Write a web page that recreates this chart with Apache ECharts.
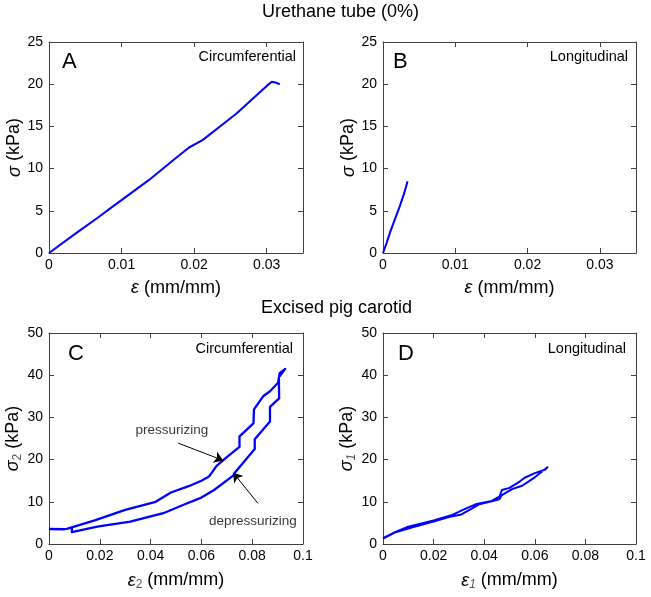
<!DOCTYPE html>
<html>
<head>
<meta charset="utf-8">
<script src="https://cdn.jsdelivr.net/npm/echarts@6/dist/echarts.min.js"></script>
<style>html,body{margin:0;padding:0;background:#fff}#c{width:651px;height:597px}</style>
</head>
<body>
<div id="c"></div>
<script>
// Panel A: urethane tube, circumferential
const aStrain = [0, 0.0035, 0.0069, 0.0083, 0.0137, 0.0174, 0.0193, 0.0212, 0.0258, 0.0286, 0.0300, 0.0307, 0.0312, 0.0318];
const aStress = [0, 2.2, 4.3, 5.2, 8.6, 11.2, 12.5, 13.4, 16.5, 18.7, 19.8, 20.3, 20.2, 20.0];
// Panel B: urethane tube, longitudinal
const bStrain = [0, 0.0005, 0.0010, 0.0016, 0.0023, 0.0029, 0.0034];
const bStress = [0, 1.2, 2.5, 3.9, 5.5, 7.0, 8.5];
// Panel C: pig carotid, circumferential (pressurizing then depressurizing)
const cStrain = [0, 0.006, 0.0065, 0.007, 0.018, 0.030, 0.042, 0.048, 0.055, 0.060, 0.063, 0.066, 0.070, 0.075, 0.075, 0.0805, 0.0807, 0.0843, 0.087, 0.0902, 0.0908, 0.093,
                 0.0905, 0.0906, 0.087, 0.087, 0.081, 0.081, 0.0733, 0.0725, 0.065, 0.060, 0.053, 0.045, 0.032, 0.019, 0.009, 0.009];
const cStress = [3.55, 3.5, 3.3, 3.6, 5.6, 8.1, 10.0, 12.2, 13.7, 15.0, 16.0, 18.5, 20.6, 23.0, 25.5, 28.6, 31.9, 35.0, 36.2, 38.2, 40.5, 41.5,
                 39.5, 34.5, 32.5, 29.0, 24.8, 22.5, 17.0, 16.2, 12.8, 11.0, 9.3, 7.3, 5.3, 4.1, 2.8, 3.9];
// Panel D: pig carotid, longitudinal (loading and unloading)
const dStrain = [0, 0.005, 0.012, 0.020, 0.026, 0.031, 0.034, 0.038, 0.043, 0.046, 0.047, 0.051, 0.055, 0.060, 0.065,
                 0.064, 0.060, 0.056, 0.054, 0.050, 0.047, 0.046, 0.043, 0.037, 0.032, 0.027, 0.020, 0.010, 0.004, 0];
const dStress = [1.3, 2.8, 4.0, 5.3, 6.4, 7.0, 8.0, 9.4, 10.1, 10.6, 11.6, 13.0, 13.8, 15.8, 18.2,
                 17.6, 16.8, 15.7, 14.8, 13.3, 12.8, 11.2, 10.2, 9.5, 8.2, 6.8, 5.6, 4.1, 2.6, 1.4];
// Annotations in panel C (data coordinates)
const pressArrow = [[0.0509, 23.9], [0.0686, 19.8]];
const depressArrow = [[0.0823, 9.6], [0.0725, 16.9]];
const cLabels = [[0.0484, 27.0, 'pressurizing'], [0.0803, 5.4, 'depressurizing']];
// Tick settings
const urethaneX = {min: 0, max: 0.035, interval: 0.01};
const urethaneY = {min: 0, max: 25, interval: 5};
const carotidX = {min: 0, max: 0.1, interval: 0.02};
const carotidY = {min: 0, max: 50, interval: 10};

const FONT = 'Liberation Sans, Arial, sans-serif';
const AXC = '#404040';
const zip = (xs, ys) => xs.map((x, i) => [x, ys[i]]);

const grids = [
  {left: 49, top: 42, width: 254, height: 211},
  {left: 383, top: 42, width: 253, height: 211},
  {left: 49, top: 333, width: 254, height: 211},
  {left: 383, top: 333, width: 253, height: 211}
];

const nameRich = {
  g: {fontSize: 18, fontStyle: 'italic', fontFamily: FONT, color: '#000'},
  n: {fontSize: 18, fontFamily: FONT, color: '#000'},
  s: {fontSize: 12, fontFamily: FONT, color: '#555', padding: [9, 0, 0, 0]},
  si: {fontSize: 12, fontFamily: FONT, color: '#555', fontStyle: 'italic', padding: [9, 0, 0, 0]}
};

function baseAxis(g, sc, pos, labels, extra) {
  return Object.assign({
    type: 'value', gridIndex: g, position: pos,
    min: sc.min, max: sc.max, interval: sc.interval,
    axisLine: {show: true, onZero: false, lineStyle: {color: AXC, width: 1}},
    axisTick: {show: true, inside: true, length: 5, lineStyle: {color: AXC}},
    splitLine: {show: false},
    axisLabel: {show: labels, color: '#000', fontSize: 14, fontFamily: FONT}
  }, extra || {});
}

const xAxes = [], yAxes = [];
const panels = [
  {xs: urethaneX, ys: urethaneY, xn: '{g|ε}{n| (mm/mm)}', yn: '{g|σ}{n| (kPa)}', hideMax: true},
  {xs: urethaneX, ys: urethaneY, xn: '{g|ε}{n| (mm/mm)}', yn: '{g|σ}{n| (kPa)}', hideMax: true},
  {xs: carotidX, ys: carotidY, xn: '{g|ε}{s|2}{n| (mm/mm)}', yn: '{g|σ}{s|2}{n| (kPa)}', hideMax: false},
  {xs: carotidX, ys: carotidY, xn: '{g|ε}{si|1}{n| (mm/mm)}', yn: '{g|σ}{si|1}{n| (kPa)}', hideMax: false}
];
panels.forEach((p, g) => {
  const bx = baseAxis(g, p.xs, 'bottom', true, {
    name: p.xn, nameLocation: 'middle', nameGap: 26,
    nameTextStyle: {rich: nameRich}
  });
  bx.axisLabel.margin = 5;
  bx.axisLabel.showMaxLabel = !p.hideMax;
  xAxes.push(bx);
  xAxes.push(baseAxis(g, p.xs, 'top', false));
  const ly = baseAxis(g, p.ys, 'left', true, {
    name: p.yn, nameLocation: 'middle', nameGap: 25,
    nameTextStyle: {rich: nameRich}
  });
  ly.axisLabel.margin = 6;
  yAxes.push(ly);
  yAxes.push(baseAxis(g, p.ys, 'right', false));
});

function curve(g, xs, ys, w) {
  return {
    type: 'line', xAxisIndex: 2 * g, yAxisIndex: 2 * g,
    data: zip(xs, ys), showSymbol: false, symbol: 'none', silent: true,
    lineStyle: {color: '#0000ff', width: w, join: 'round'}, itemStyle: {color: '#0000ff'}
  };
}

const seriesC = curve(2, cStrain, cStress, 2.3);
seriesC.markLine = {
  silent: true, symbol: ['none', 'arrow'], symbolSize: 9,
  label: {show: false},
  lineStyle: {color: '#000', width: 1, type: 'solid'},
  data: [
    [{coord: pressArrow[0]}, {coord: pressArrow[1]}],
    [{coord: depressArrow[0]}, {coord: depressArrow[1]}]
  ]
};

const textStyle = (size) => ({fontSize: size, fontWeight: 'normal', color: '#000', fontFamily: FONT});

const option = {
  animation: false,
  backgroundColor: '#fff',
  title: [
    {text: 'Urethane tube (0%)', left: 262, top: 3, padding: 0, textStyle: textStyle(18)},
    {text: 'Excised pig carotid', left: 261, top: 299, padding: 0, textStyle: textStyle(18)},
    {text: 'A', left: 62, top: 51, padding: 0, textStyle: textStyle(22)},
    {text: 'B', left: 393, top: 51, padding: 0, textStyle: textStyle(22)},
    {text: 'C', left: 68, top: 343, padding: 0, textStyle: textStyle(22)},
    {text: 'D', left: 398, top: 343, padding: 0, textStyle: textStyle(22)},
    {text: 'Circumferential', right: 355, top: 49, padding: 0, textStyle: textStyle(14.5)},
    {text: 'Longitudinal', right: 23, top: 49, padding: 0, textStyle: textStyle(14.5)},
    {text: 'Circumferential', right: 358, top: 341, padding: 0, textStyle: textStyle(14.5)},
    {text: 'Longitudinal', right: 25, top: 341, padding: 0, textStyle: textStyle(14.5)}
  ],
  grid: grids,
  xAxis: xAxes,
  yAxis: yAxes,
  series: [
    curve(0, aStrain, aStress, 2),
    curve(1, bStrain, bStress, 2),
    seriesC,
    curve(3, dStrain, dStress, 2),
    {
      type: 'scatter', xAxisIndex: 4, yAxisIndex: 4, symbolSize: 0, silent: true,
      data: cLabels,
      label: {show: true, position: 'inside', formatter: (p) => p.value[2], fontSize: 13.5, color: '#000', fontFamily: FONT}
    }
  ]
};
const chart = echarts.init(document.getElementById('c'), null, {renderer: 'canvas'});
chart.setOption(option);
</script>
</body>
</html>
